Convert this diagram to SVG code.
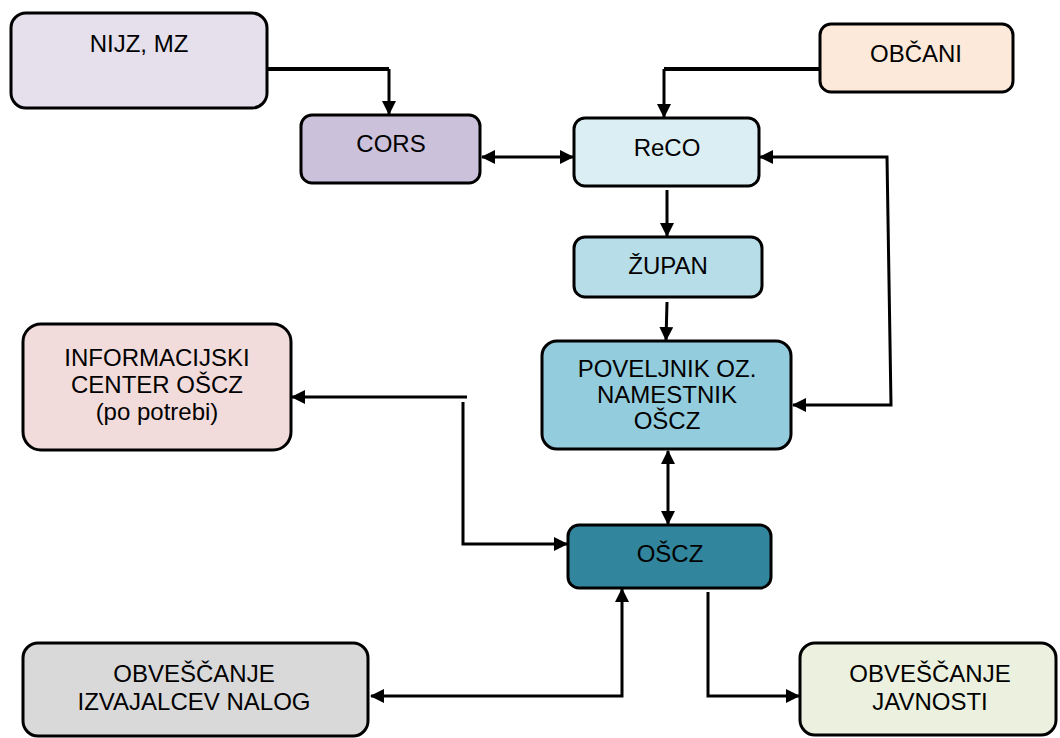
<svg xmlns="http://www.w3.org/2000/svg" width="1060" height="738" viewBox="0 0 1060 738">
<style>
.box{stroke:#000;stroke-width:3}
.t{font-family:"Liberation Sans",Arial,sans-serif;font-size:24px;fill:#000;text-anchor:middle}
.c{fill:none;stroke:#000;stroke-width:3}
.cb{fill:none;stroke:#000;stroke-width:4}
</style>
<defs>
<marker id="ah" markerUnits="userSpaceOnUse" markerWidth="14" markerHeight="14" viewBox="0 0 14 14" refX="13" refY="7" orient="auto-start-reverse">
<path d="M0,0 L14,7 L0,14 Z" fill="#000"/>
</marker>
</defs>
<rect width="1060" height="738" fill="#fff"/>
<g id="connectors">
<path class="cb" d="M256,69 L389,69"/>
<path class="c" d="M389,69 L389,114" stroke-width="2" marker-end="url(#ah)"/>
<path class="cb" d="M820,69 L664,69"/>
<path class="c" d="M664,69 L664,117" marker-end="url(#ah)"/>
<path class="c" d="M482,157 L573,157" marker-start="url(#ah)" marker-end="url(#ah)"/>
<path class="c" d="M760,157 L887,157 L891,405 L793,405" marker-start="url(#ah)" marker-end="url(#ah)"/>
<path class="c" d="M667,190 L667,236" marker-end="url(#ah)"/>
<path class="c" d="M667,302 L666,340" marker-end="url(#ah)"/>
<path class="c" d="M668,451 L668,524" marker-start="url(#ah)" marker-end="url(#ah)"/>
<path class="c" d="M467,397 L292,397" marker-end="url(#ah)"/>
<path class="c" d="M463,402 L463,544 L567,544" marker-end="url(#ah)"/>
<path class="c" d="M371,696 L622,696 L622,589" marker-start="url(#ah)" marker-end="url(#ah)"/>
<path class="c" d="M708,592 L708,696 L799,696" marker-end="url(#ah)"/>
</g>
<g id="nijz"><rect class="box" x="11" y="13" width="256" height="95" rx="15" fill="#e5e0ec"/><text class="t" x="139" y="52">NIJZ, MZ</text></g>
<g id="cors"><rect class="box" x="301" y="115" width="179" height="68" rx="11" fill="#ccc1da"/><text class="t" x="391" y="152">CORS</text></g>
<g id="obcani"><rect class="box" x="820" y="24" width="193" height="68" rx="11" fill="#fde9d9"/><text class="t" x="916" y="62">OBČANI</text></g>
<g id="reco"><rect class="box" x="574" y="118" width="185" height="68" rx="11" fill="#dbeef3"/><text class="t" x="667" y="156">ReCO</text></g>
<g id="zupan"><rect class="box" x="574" y="237" width="188" height="60" rx="11" fill="#b7dde8"/><text class="t" x="668" y="274">ŽUPAN</text></g>
<g id="poveljnik"><rect class="box" x="542" y="341" width="249" height="108" rx="15" fill="#93cddd"/><text class="t" x="667" y="377">POVELJNIK OZ.</text><text class="t" x="667" y="403">NAMESTNIK</text><text class="t" x="667" y="429">OŠCZ</text></g>
<g id="oscz"><rect class="box" x="568" y="525" width="203" height="63" rx="11" fill="#31859c"/><text class="t" x="670" y="562">OŠCZ</text></g>
<g id="info"><rect class="box" x="23" y="324" width="268" height="126" rx="18" fill="#f2dcdb"/><text class="t" x="157" y="366">INFORMACIJSKI</text><text class="t" x="157" y="393">CENTER OŠCZ</text><text class="t" x="157" y="420">(po potrebi)</text></g>
<g id="izvajalci"><rect class="box" x="23" y="643" width="345" height="93" rx="15" fill="#d9d9d9"/><text class="t" x="194" y="682">OBVEŠČANJE</text><text class="t" x="194" y="710">IZVAJALCEV NALOG</text></g>
<g id="javnost"><rect class="box" x="800" y="643" width="256" height="92" rx="15" fill="#ebf1de"/><text class="t" x="930" y="682">OBVEŠČANJE</text><text class="t" x="930" y="710">JAVNOSTI</text></g>
</svg>
